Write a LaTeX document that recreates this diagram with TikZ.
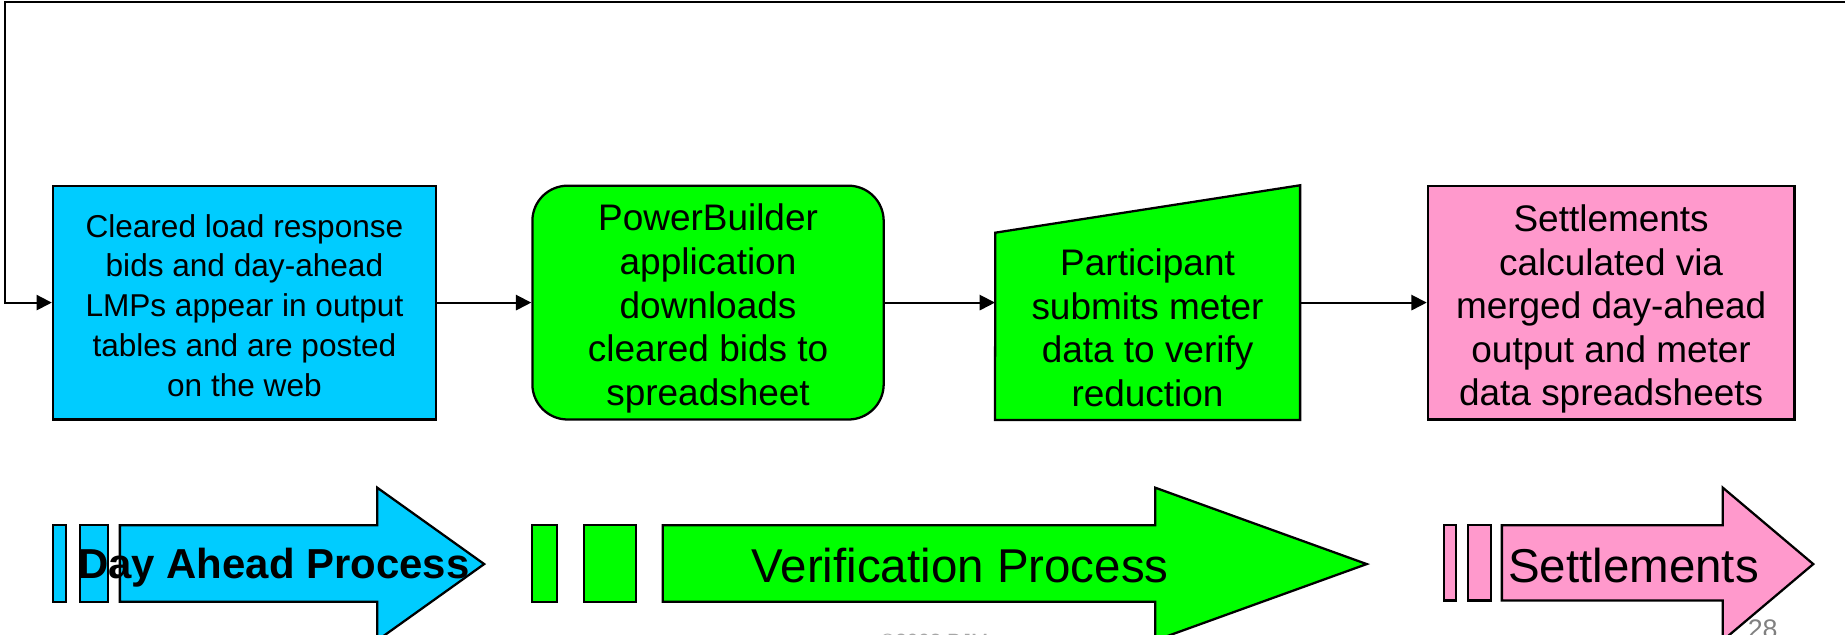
\documentclass[tikz,border=0pt]{standalone}
\usepackage{fontspec}
\setmainfont{Liberation Sans}
\usetikzlibrary{arrows.meta}
\definecolor{dablue}{HTML}{00CCFF}
\definecolor{vgreen}{HTML}{00FF00}
\definecolor{spink}{HTML}{FF99CC}
\begin{document}
\begin{tikzpicture}[x=0.02cm,y=-0.02cm,
  box/.style={draw=black, line width=1.1pt, inner sep=0pt, minimum height=3.98cm},
  boxtext/.style={inner sep=0pt, align=center, font=\fontsize{17.9}{21.1}\selectfont},
  conn/.style={line width=0.9pt, -{Triangle[length=0.26cm,width=0.26cm]}},
  band/.style={draw=black, line width=1.1pt, line join=miter},
  bandtext/.style={inner sep=0pt, font=\fontsize{23}{26}\selectfont}]
\clip (0,0) rectangle (1570,540);
\useasboundingbox (0,0) rectangle (1570,540);

% process boxes
\node[box, fill=dablue, minimum width=6.52cm] (b1) at (208,257.5) {};
\node[boxtext, font=\fontsize{15.3}{19.3}\selectfont] (b1t) at (208,260)
  {Cleared load response\\bids and day-ahead\\LMPs appear in output\\tables and are posted\\on the web};
\node[box, fill=vgreen, rounded corners=0.6cm, minimum width=5.98cm] (b2) at (602.5,257.5) {};
\node[boxtext] (b2t) at (602.5,262.5)
  {PowerBuilder\\application\\downloads\\cleared bids to\\spreadsheet};
\node[inner sep=0pt, minimum width=5.18cm, minimum height=3.98cm] (b3) at (976.5,257.5) {};
\draw[band, fill=vgreen] (b3.south west) -- (b3.south east) -- (b3.north east) -- (847,198) -- cycle;
\node[boxtext] (b3t) at (976.5,279)
  {Participant\\submits meter\\data to verify\\reduction};
\node[box, fill=spink, minimum width=6.24cm] (b4) at (1371,257.5) {};
\node[boxtext] (b4t) at (1371,263)
  {Settlements\\calculated via\\merged day-ahead\\output and meter\\data spreadsheets};

% connectors
\coordinate (tr) at (1570,1.5);
\coordinate (tl) at (4.5,1.5);
\draw[conn] (tr) -- (tl) |- (b1.west);
\draw[conn] (b1.east) -- (b2.west);
\draw[conn] (b2.east) -- (b3.west);
\draw[conn] (b3.east) -- (b4.west);

% phase bands
\draw[band, fill=dablue] (45,447) rectangle (56,512);
\draw[band, fill=dablue] (68,447) rectangle (92,512);
\draw[band, fill=dablue] (102,447) -- (321,447) -- (321,415) -- (412,480) -- (321,545) -- (321,512) -- (102,512) -- cycle;
\node[bandtext, font=\fontsize{20.3}{24}\selectfont\bfseries] (t1) at (233,483) {Day Ahead Process};

\draw[band, fill=vgreen] (453,447) rectangle (474,512);
\draw[band, fill=vgreen] (497,447) rectangle (541,512);
\draw[band, fill=vgreen] (564,447) -- (983,447) -- (983,415) -- (1163,480) -- (983,545) -- (983,512) -- (564,512) -- cycle;
\node[bandtext] (t2) at (817,481) {Verification Process};

\draw[band, fill=spink] (1229,447) rectangle (1239,511);
\draw[band, fill=spink] (1249,447) rectangle (1269,511);
\draw[band, fill=spink] (1278,447) -- (1466,447) -- (1466,415) -- (1543,480) -- (1466,545) -- (1466,511) -- (1278,511) -- cycle;
\node[bandtext] (t3) at (1390,481) {Settlements};

% footer
\node[anchor=base, inner sep=0pt, text=gray, font=\fontsize{13}{15}\selectfont] (pg) at (1500,543.5) {28};
\node[anchor=base, inner sep=0pt, text=gray!70, font=\fontsize{10}{12}\selectfont] (cp) at (795,552) {\textcopyright2003 PJM};
\end{tikzpicture}
\end{document}
